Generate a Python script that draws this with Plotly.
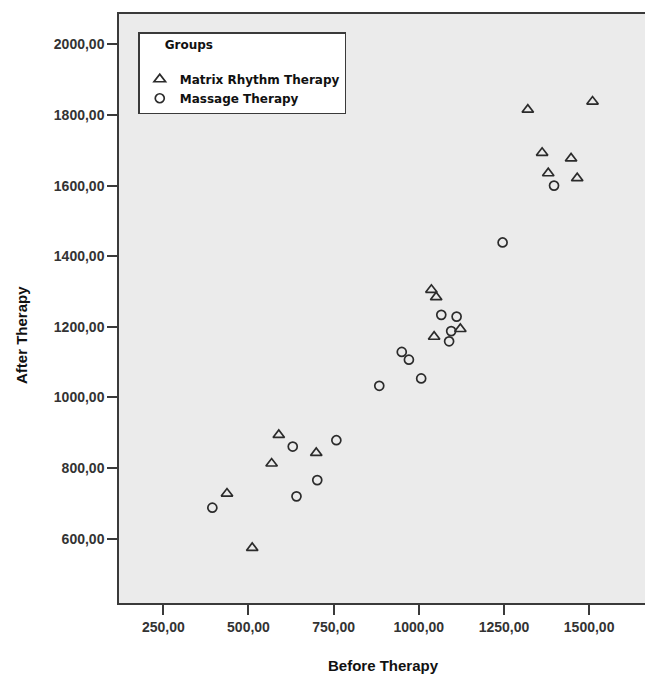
import plotly.graph_objects as go

# Matrix Rhythm Therapy group
mrt_before = [1320, 1510, 1362, 1447, 1380, 1465, 1037, 1051, 1045, 1122, 589, 568, 699, 437, 511]
mrt_after = [1815, 1838, 1693, 1677, 1635, 1621, 1305, 1284, 1172, 1194, 894, 813, 843, 728, 574]

# Massage Therapy group
mt_before = [1397, 1246, 1066, 1111, 1095, 1089, 950, 971, 1007, 884, 758, 630, 702, 641, 394]
mt_after = [1600, 1439, 1234, 1229, 1188, 1159, 1129, 1107, 1054, 1033, 879, 861, 766, 720, 688]

x_ticks = [250, 500, 750, 1000, 1250, 1500]
x_ticklabels = ["250,00", "500,00", "750,00", "1000,00", "1250,00", "1500,00"]
y_ticks = [600, 800, 1000, 1200, 1400, 1600, 1800, 2000]
y_ticklabels = ["600,00", "800,00", "1000,00", "1200,00", "1400,00", "1600,00", "1800,00", "2000,00"]

SANS = "Liberation Sans, Arial, sans-serif"
WIDE = "DejaVu Sans, Verdana, sans-serif"
FRAME = "#3a3a3a"

fig = go.Figure()
fig.add_trace(go.Scatter(
    x=mrt_before, y=mrt_after, mode="markers", name="<b>Matrix Rhythm Therapy</b>",
    marker=dict(symbol="triangle-up-open", size=10, color="#2b2b2b", line=dict(width=1.7, color="#2b2b2b")),
))
fig.add_trace(go.Scatter(
    x=mt_before, y=mt_after, mode="markers", name="<b>Massage Therapy</b>",
    marker=dict(symbol="circle-open", size=9, color="#2b2b2b", line=dict(width=1.7, color="#2b2b2b")),
))

fig.update_layout(
    width=645, height=675,
    margin=dict(l=119, r=0, t=14, b=72),
    paper_bgcolor="white",
    plot_bgcolor="#ebebeb",
    showlegend=True,
    legend=dict(
        x=0.037, y=0.969, xanchor="left", yanchor="top",
        bgcolor="white", bordercolor=FRAME, borderwidth=1.3,
        font=dict(family=WIDE, size=12, color="#111"),
        title=dict(text="      <b>Groups</b><br> ", font=dict(family=WIDE, size=12, color="#111")),
        itemwidth=30, tracegroupgap=0,
    ),
    xaxis=dict(
        range=[120, 1664], tickvals=x_ticks, ticktext=x_ticklabels,
        showgrid=False, zeroline=False,
        showline=True, mirror=True, linecolor=FRAME, linewidth=1.5,
        ticks="outside", ticklen=10, tickwidth=1.5, tickcolor=FRAME,
        tickfont=dict(family=SANS, size=14, color="#333", weight="bold"),
    ),
    yaxis=dict(
        range=[418, 2086], tickvals=y_ticks, ticktext=y_ticklabels,
        showgrid=False, zeroline=False,
        showline=True, mirror=False, linecolor=FRAME, linewidth=1.5,
        ticks="outside", ticklen=10, tickwidth=1.5, tickcolor=FRAME,
        tickfont=dict(family=SANS, size=14, color="#333", weight="bold"),
    ),
    annotations=[
        dict(text="<b>Before Therapy</b>", x=0.502, y=-0.1053,
             xref="paper", yref="paper", showarrow=False, xanchor="center", yanchor="middle",
             font=dict(family=SANS, size=15, color="#111")),
        dict(text="<b>After Therapy</b>", x=-0.1863, y=0.455,
             xref="paper", yref="paper", showarrow=False, xanchor="center", yanchor="middle",
             textangle=-90, font=dict(family=SANS, size=15, color="#111")),
    ],
)

fig.write_html(
    "out.html",
    config={"displayModeBar": False},
    post_script="document.body.style.margin='0';document.body.style.overflow='hidden';"
                "document.documentElement.style.overflow='hidden';",
)
